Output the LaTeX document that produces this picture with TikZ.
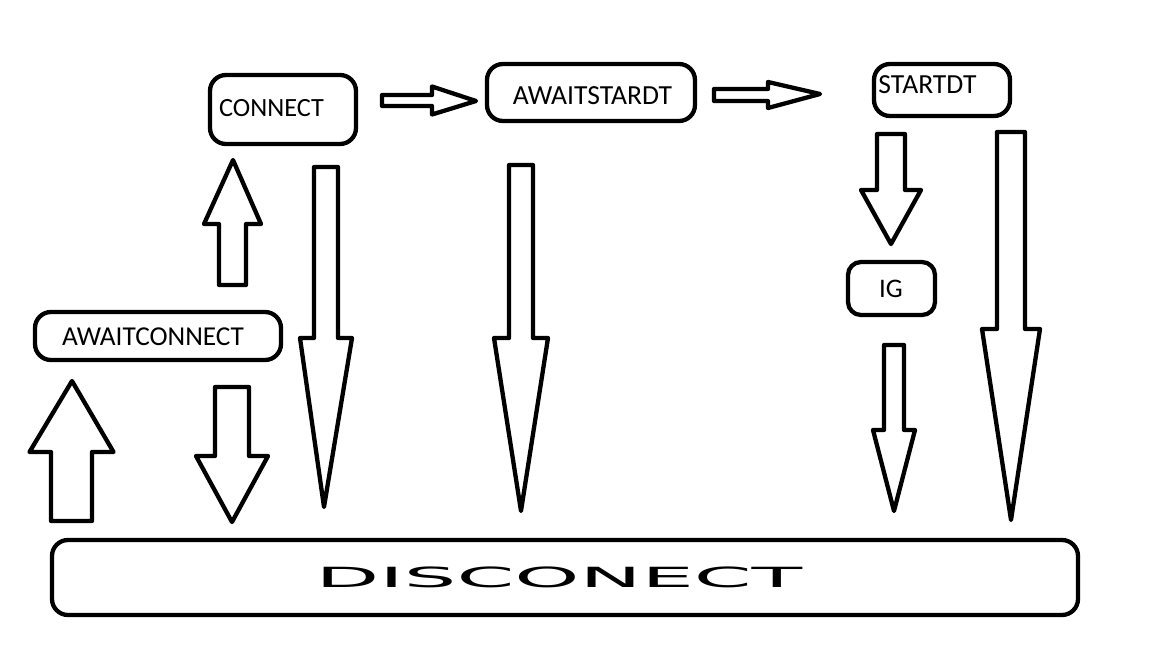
\documentclass[tikz,border=0pt]{standalone}
\usepackage{fontspec}
\usepackage{graphicx}
\setmainfont{Carlito}
\newfontfamily\discfont{DejaVu Sans}
\usetikzlibrary{calc}
\tikzset{
  stbox/.style={draw, line width=4.3pt, rounded corners=16pt, inner sep=0pt},
  blk/.style={draw, line width=4.3pt, line join=round, fill=white},
  lbl/.style={inner sep=0pt},
}
% vertical block arrow: tail, tip, shaft half width, head half width, signed offset of head base from tip
\newcommand\varrow[5]{%
  \draw[blk] let \p1=(#1), \p2=(#2) in
    ({\x1-#3pt},{\y1}) -- ({\x1-#3pt},{\y2+(#5pt)}) -- ({\x1-#4pt},{\y2+(#5pt)}) -- (\p2)
    -- ({\x1+#4pt},{\y2+(#5pt)}) -- ({\x1+#3pt},{\y2+(#5pt)}) -- ({\x1+#3pt},{\y1}) -- cycle;}
% horizontal block arrow
\newcommand\harrow[5]{%
  \draw[blk] let \p1=(#1), \p2=(#2) in
    ({\x1},{\y1+#3pt}) -- ({\x2+(#5pt)},{\y1+#3pt}) -- ({\x2+(#5pt)},{\y1+#4pt}) -- (\p2)
    -- ({\x2+(#5pt)},{\y1-#4pt}) -- ({\x2+(#5pt)},{\y1-#3pt}) -- ({\x1},{\y1-#3pt}) -- cycle;}
\begin{document}
\begin{tikzpicture}[x=1pt,y=-1pt]
\useasboundingbox (0,0) rectangle (1152,648);
\fill[white] (0,0) rectangle (1152,648);

% state boxes
\node[stbox, minimum width=246pt, minimum height=48pt] (awaitconnect) at (158,336) {};
\node[stbox, minimum width=146pt, minimum height=69pt] (connect) at (283,109.5) {};
\node[stbox, minimum width=208pt, minimum height=57pt] (awaitstardt) at (591,92.5) {};
\node[stbox, minimum width=136pt, minimum height=52pt] (startdt) at (942,90) {};
\node[stbox, rounded corners=13pt, minimum width=87pt, minimum height=53pt] (ig) at (891.5,288.5) {};
\node[stbox, minimum width=1026pt, minimum height=75pt] (disconect) at (565,577.5) {};

% labels
\node[lbl, font=\fontsize{27.3}{30}\selectfont] (awaitconnectT) at (153,337) {AWAITCONNECT};
\node[lbl, font=\fontsize{26.3}{30}\selectfont] (connectT) at (271.5,108) {CONNECT};
\node[lbl, font=\fontsize{27.6}{30}\selectfont] (awaitstardtT) at (592.5,95.5) {AWAITSTARDT};
\node[lbl, font=\fontsize{27.6}{30}\selectfont] (startdtT) at (927.5,85) {STARTDT};
\node[lbl, font=\fontsize{26.8}{30}\selectfont] (igT) at (891,288.5) {IG};
\node[lbl] (disconectT) at (559,577) {\scalebox{2.98}[1]{\discfont\fontsize{27.8}{30}\selectfont DISCONECT}};

% arrow end points
\coordinate (a1t) at (232,387);   \coordinate (a1h) at (232,522);
\coordinate (a2t) at (326,167);   \coordinate (a2h) at (324,507);
\coordinate (a3t) at (521,165);   \coordinate (a3h) at (521,511);
\coordinate (a4t) at (891,134);   \coordinate (a4h) at (891,244);
\coordinate (a5t) at (894,345);   \coordinate (a5h) at (894,511);
\coordinate (a6t) at (1011,132);  \coordinate (a6h) at (1011,520);
\coordinate (a7t) at (71.5,521);  \coordinate (a7h) at (72,381);
\coordinate (a8t) at (232.5,285); \coordinate (a8h) at (233,160);
\coordinate (a9t) at (382,100.5); \coordinate (a9h) at (476,101);
\coordinate (a10t) at (714,95);   \coordinate (a10h) at (820,94);

% block arrows
\varrow{a1t}{a1h}{17}{36}{66}
\varrow{a2t}{a2h}{12}{26}{169}
\varrow{a3t}{a3h}{12}{27}{173}
\varrow{a4t}{a4h}{14}{30}{54}
\varrow{a5t}{a5h}{10}{21}{81}
\varrow{a6t}{a6h}{14}{29}{191}
\varrow{a7t}{a7h}{20.5}{42}{-71}
\varrow{a8t}{a8h}{13.5}{28.5}{-64}
\harrow{a9t}{a9h}{5.5}{14}{-44}
\harrow{a10t}{a10h}{6}{13}{-52}
\end{tikzpicture}
\end{document}
